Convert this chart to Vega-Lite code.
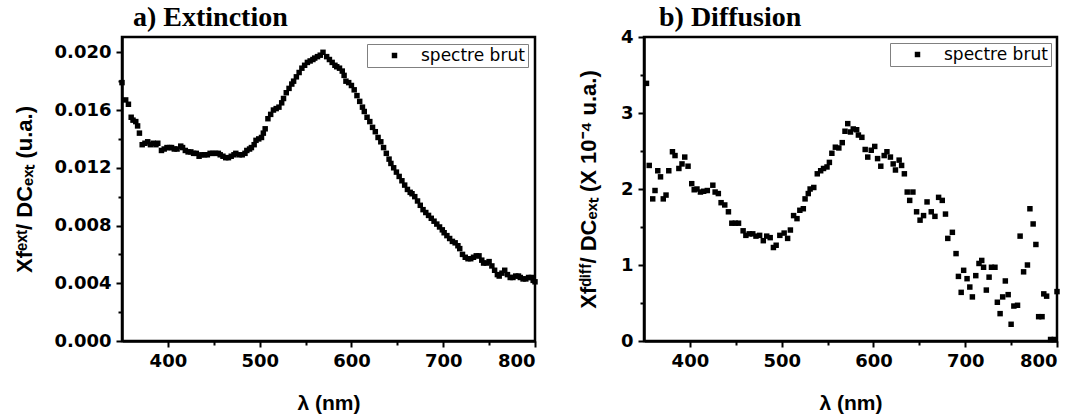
{
  "$schema": "https://vega.github.io/schema/vega-lite/v6.json",
  "background": "white",
  "padding": {"left": 11, "top": 2, "right": 5, "bottom": 0},
  "bounds": "flush",
  "spacing": 109,
  "datasets": {
    "ext": [
      {"l":350,"v":0.0179,"s":"spectre brut"},{"l":354,"v":0.0167,"s":"spectre brut"},{"l":357,"v":0.0164,"s":"spectre brut"},{"l":360,"v":0.0155,"s":"spectre brut"},{"l":362,"v":0.0153,"s":"spectre brut"},{"l":365,"v":0.0152,"s":"spectre brut"},{"l":367,"v":0.0149,"s":"spectre brut"},{"l":369,"v":0.0144,"s":"spectre brut"},{"l":372,"v":0.0136,"s":"spectre brut"},{"l":375,"v":0.0137,"s":"spectre brut"},{"l":378,"v":0.0138,"s":"spectre brut"},{"l":381,"v":0.0136,"s":"spectre brut"},{"l":384,"v":0.0137,"s":"spectre brut"},{"l":387,"v":0.0136,"s":"spectre brut"},{"l":389,"v":0.0137,"s":"spectre brut"},{"l":393,"v":0.0132,"s":"spectre brut"},{"l":396,"v":0.0133,"s":"spectre brut"},{"l":399,"v":0.0134,"s":"spectre brut"},{"l":402,"v":0.0134,"s":"spectre brut"},{"l":404,"v":0.0134,"s":"spectre brut"},{"l":407,"v":0.0133,"s":"spectre brut"},{"l":410,"v":0.0133,"s":"spectre brut"},{"l":414,"v":0.0135,"s":"spectre brut"},{"l":416,"v":0.0134,"s":"spectre brut"},{"l":419,"v":0.0132,"s":"spectre brut"},{"l":422,"v":0.0131,"s":"spectre brut"},{"l":425,"v":0.0131,"s":"spectre brut"},{"l":428,"v":0.0130,"s":"spectre brut"},{"l":431,"v":0.0130,"s":"spectre brut"},{"l":434,"v":0.0128,"s":"spectre brut"},{"l":437,"v":0.0129,"s":"spectre brut"},{"l":440,"v":0.0129,"s":"spectre brut"},{"l":443,"v":0.0129,"s":"spectre brut"},{"l":446,"v":0.0130,"s":"spectre brut"},{"l":449,"v":0.0130,"s":"spectre brut"},{"l":452,"v":0.0130,"s":"spectre brut"},{"l":455,"v":0.0130,"s":"spectre brut"},{"l":457,"v":0.0129,"s":"spectre brut"},{"l":460,"v":0.0128,"s":"spectre brut"},{"l":463,"v":0.0127,"s":"spectre brut"},{"l":466,"v":0.0127,"s":"spectre brut"},{"l":469,"v":0.0128,"s":"spectre brut"},{"l":472,"v":0.0129,"s":"spectre brut"},{"l":474,"v":0.0130,"s":"spectre brut"},{"l":478,"v":0.0129,"s":"spectre brut"},{"l":481,"v":0.0129,"s":"spectre brut"},{"l":484,"v":0.0130,"s":"spectre brut"},{"l":486,"v":0.0132,"s":"spectre brut"},{"l":489,"v":0.0133,"s":"spectre brut"},{"l":491,"v":0.0134,"s":"spectre brut"},{"l":494,"v":0.0136,"s":"spectre brut"},{"l":496,"v":0.0139,"s":"spectre brut"},{"l":499,"v":0.0140,"s":"spectre brut"},{"l":502,"v":0.0141,"s":"spectre brut"},{"l":504,"v":0.0144,"s":"spectre brut"},{"l":506,"v":0.0147,"s":"spectre brut"},{"l":509,"v":0.0154,"s":"spectre brut"},{"l":512,"v":0.0157,"s":"spectre brut"},{"l":515,"v":0.0160,"s":"spectre brut"},{"l":518,"v":0.0161,"s":"spectre brut"},{"l":521,"v":0.0162,"s":"spectre brut"},{"l":524,"v":0.0165,"s":"spectre brut"},{"l":526,"v":0.0168,"s":"spectre brut"},{"l":529,"v":0.0172,"s":"spectre brut"},{"l":532,"v":0.0175,"s":"spectre brut"},{"l":535,"v":0.0178,"s":"spectre brut"},{"l":537,"v":0.0180,"s":"spectre brut"},{"l":540,"v":0.0183,"s":"spectre brut"},{"l":543,"v":0.0186,"s":"spectre brut"},{"l":546,"v":0.0189,"s":"spectre brut"},{"l":549,"v":0.0191,"s":"spectre brut"},{"l":552,"v":0.0193,"s":"spectre brut"},{"l":555,"v":0.0194,"s":"spectre brut"},{"l":558,"v":0.0195,"s":"spectre brut"},{"l":560,"v":0.0196,"s":"spectre brut"},{"l":563,"v":0.0197,"s":"spectre brut"},{"l":566,"v":0.0198,"s":"spectre brut"},{"l":569,"v":0.0200,"s":"spectre brut"},{"l":573,"v":0.0197,"s":"spectre brut"},{"l":576,"v":0.0195,"s":"spectre brut"},{"l":579,"v":0.0193,"s":"spectre brut"},{"l":582,"v":0.0191,"s":"spectre brut"},{"l":584,"v":0.0190,"s":"spectre brut"},{"l":587,"v":0.0189,"s":"spectre brut"},{"l":590,"v":0.0187,"s":"spectre brut"},{"l":592,"v":0.0184,"s":"spectre brut"},{"l":594,"v":0.0180,"s":"spectre brut"},{"l":597,"v":0.0179,"s":"spectre brut"},{"l":600,"v":0.0177,"s":"spectre brut"},{"l":603,"v":0.0174,"s":"spectre brut"},{"l":606,"v":0.0170,"s":"spectre brut"},{"l":609,"v":0.0166,"s":"spectre brut"},{"l":612,"v":0.0162,"s":"spectre brut"},{"l":614,"v":0.0159,"s":"spectre brut"},{"l":617,"v":0.0155,"s":"spectre brut"},{"l":620,"v":0.0152,"s":"spectre brut"},{"l":623,"v":0.0148,"s":"spectre brut"},{"l":626,"v":0.0145,"s":"spectre brut"},{"l":629,"v":0.0141,"s":"spectre brut"},{"l":632,"v":0.0138,"s":"spectre brut"},{"l":635,"v":0.0134,"s":"spectre brut"},{"l":638,"v":0.0130,"s":"spectre brut"},{"l":641,"v":0.0126,"s":"spectre brut"},{"l":643,"v":0.0123,"s":"spectre brut"},{"l":646,"v":0.0120,"s":"spectre brut"},{"l":649,"v":0.0117,"s":"spectre brut"},{"l":652,"v":0.0114,"s":"spectre brut"},{"l":655,"v":0.0111,"s":"spectre brut"},{"l":658,"v":0.0108,"s":"spectre brut"},{"l":661,"v":0.0105,"s":"spectre brut"},{"l":664,"v":0.0103,"s":"spectre brut"},{"l":666,"v":0.0102,"s":"spectre brut"},{"l":669,"v":0.0100,"s":"spectre brut"},{"l":672,"v":0.0097,"s":"spectre brut"},{"l":675,"v":0.0094,"s":"spectre brut"},{"l":678,"v":0.0091,"s":"spectre brut"},{"l":681,"v":0.0089,"s":"spectre brut"},{"l":684,"v":0.0087,"s":"spectre brut"},{"l":687,"v":0.0085,"s":"spectre brut"},{"l":690,"v":0.0083,"s":"spectre brut"},{"l":693,"v":0.0081,"s":"spectre brut"},{"l":696,"v":0.0079,"s":"spectre brut"},{"l":699,"v":0.0077,"s":"spectre brut"},{"l":701,"v":0.0075,"s":"spectre brut"},{"l":704,"v":0.0073,"s":"spectre brut"},{"l":707,"v":0.0071,"s":"spectre brut"},{"l":710,"v":0.0069,"s":"spectre brut"},{"l":713,"v":0.0068,"s":"spectre brut"},{"l":716,"v":0.0066,"s":"spectre brut"},{"l":718,"v":0.0064,"s":"spectre brut"},{"l":721,"v":0.0060,"s":"spectre brut"},{"l":724,"v":0.0058,"s":"spectre brut"},{"l":727,"v":0.0057,"s":"spectre brut"},{"l":730,"v":0.0057,"s":"spectre brut"},{"l":733,"v":0.0058,"s":"spectre brut"},{"l":736,"v":0.0059,"s":"spectre brut"},{"l":739,"v":0.0059,"s":"spectre brut"},{"l":742,"v":0.0056,"s":"spectre brut"},{"l":744,"v":0.0054,"s":"spectre brut"},{"l":747,"v":0.0054,"s":"spectre brut"},{"l":750,"v":0.0055,"s":"spectre brut"},{"l":753,"v":0.0052,"s":"spectre brut"},{"l":756,"v":0.0049,"s":"spectre brut"},{"l":759,"v":0.0046,"s":"spectre brut"},{"l":761,"v":0.0045,"s":"spectre brut"},{"l":764,"v":0.0047,"s":"spectre brut"},{"l":767,"v":0.0049,"s":"spectre brut"},{"l":770,"v":0.0046,"s":"spectre brut"},{"l":773,"v":0.0044,"s":"spectre brut"},{"l":776,"v":0.0044,"s":"spectre brut"},{"l":779,"v":0.0045,"s":"spectre brut"},{"l":782,"v":0.0045,"s":"spectre brut"},{"l":784,"v":0.0044,"s":"spectre brut"},{"l":787,"v":0.0043,"s":"spectre brut"},{"l":790,"v":0.0043,"s":"spectre brut"},{"l":793,"v":0.0044,"s":"spectre brut"},{"l":796,"v":0.0044,"s":"spectre brut"},{"l":798,"v":0.0042,"s":"spectre brut"},{"l":800,"v":0.0041,"s":"spectre brut"}
    ],
    "diff": [
      {"l":352.7,"v":3.39,"s":"spectre brut"},{"l":355.7,"v":2.31,"s":"spectre brut"},{"l":359.5,"v":1.87,"s":"spectre brut"},{"l":362,"v":1.98,"s":"spectre brut"},{"l":365,"v":2.24,"s":"spectre brut"},{"l":368,"v":2.16,"s":"spectre brut"},{"l":371,"v":1.87,"s":"spectre brut"},{"l":374,"v":1.92,"s":"spectre brut"},{"l":377,"v":2.24,"s":"spectre brut"},{"l":381,"v":2.49,"s":"spectre brut"},{"l":383.8,"v":2.44,"s":"spectre brut"},{"l":388,"v":2.27,"s":"spectre brut"},{"l":391.4,"v":2.33,"s":"spectre brut"},{"l":394.4,"v":2.42,"s":"spectre brut"},{"l":398,"v":2.30,"s":"spectre brut"},{"l":402,"v":2.07,"s":"spectre brut"},{"l":404.7,"v":1.99,"s":"spectre brut"},{"l":407.7,"v":2.00,"s":"spectre brut"},{"l":411.5,"v":1.96,"s":"spectre brut"},{"l":415,"v":1.97,"s":"spectre brut"},{"l":419,"v":1.98,"s":"spectre brut"},{"l":425,"v":2.05,"s":"spectre brut"},{"l":427.5,"v":1.96,"s":"spectre brut"},{"l":431,"v":1.94,"s":"spectre brut"},{"l":434,"v":1.82,"s":"spectre brut"},{"l":438,"v":1.79,"s":"spectre brut"},{"l":442,"v":1.70,"s":"spectre brut"},{"l":445.7,"v":1.55,"s":"spectre brut"},{"l":449.5,"v":1.55,"s":"spectre brut"},{"l":453,"v":1.55,"s":"spectre brut"},{"l":458,"v":1.45,"s":"spectre brut"},{"l":461,"v":1.39,"s":"spectre brut"},{"l":464.7,"v":1.41,"s":"spectre brut"},{"l":468.5,"v":1.41,"s":"spectre brut"},{"l":472,"v":1.38,"s":"spectre brut"},{"l":476,"v":1.39,"s":"spectre brut"},{"l":480,"v":1.32,"s":"spectre brut"},{"l":483.7,"v":1.38,"s":"spectre brut"},{"l":487.5,"v":1.36,"s":"spectre brut"},{"l":491,"v":1.23,"s":"spectre brut"},{"l":494,"v":1.26,"s":"spectre brut"},{"l":498,"v":1.39,"s":"spectre brut"},{"l":502.7,"v":1.42,"s":"spectre brut"},{"l":506.5,"v":1.35,"s":"spectre brut"},{"l":509.5,"v":1.46,"s":"spectre brut"},{"l":513,"v":1.65,"s":"spectre brut"},{"l":516.7,"v":1.61,"s":"spectre brut"},{"l":519.8,"v":1.72,"s":"spectre brut"},{"l":523.6,"v":1.74,"s":"spectre brut"},{"l":525.5,"v":1.87,"s":"spectre brut"},{"l":529,"v":1.94,"s":"spectre brut"},{"l":531,"v":2.00,"s":"spectre brut"},{"l":535,"v":2.02,"s":"spectre brut"},{"l":538.8,"v":2.20,"s":"spectre brut"},{"l":542.5,"v":2.24,"s":"spectre brut"},{"l":545.6,"v":2.27,"s":"spectre brut"},{"l":549.4,"v":2.29,"s":"spectre brut"},{"l":552,"v":2.35,"s":"spectre brut"},{"l":554.7,"v":2.47,"s":"spectre brut"},{"l":558.5,"v":2.55,"s":"spectre brut"},{"l":562.3,"v":2.54,"s":"spectre brut"},{"l":566,"v":2.61,"s":"spectre brut"},{"l":569,"v":2.76,"s":"spectre brut"},{"l":572,"v":2.86,"s":"spectre brut"},{"l":575,"v":2.75,"s":"spectre brut"},{"l":578,"v":2.79,"s":"spectre brut"},{"l":581.7,"v":2.78,"s":"spectre brut"},{"l":583.6,"v":2.71,"s":"spectre brut"},{"l":587.4,"v":2.68,"s":"spectre brut"},{"l":591,"v":2.52,"s":"spectre brut"},{"l":593.8,"v":2.42,"s":"spectre brut"},{"l":597.6,"v":2.51,"s":"spectre brut"},{"l":601.4,"v":2.56,"s":"spectre brut"},{"l":604.5,"v":2.40,"s":"spectre brut"},{"l":608,"v":2.30,"s":"spectre brut"},{"l":611.7,"v":2.44,"s":"spectre brut"},{"l":614.7,"v":2.49,"s":"spectre brut"},{"l":618.5,"v":2.42,"s":"spectre brut"},{"l":621.5,"v":2.33,"s":"spectre brut"},{"l":624,"v":2.25,"s":"spectre brut"},{"l":628,"v":2.38,"s":"spectre brut"},{"l":630.7,"v":2.31,"s":"spectre brut"},{"l":633.7,"v":2.20,"s":"spectre brut"},{"l":636.8,"v":1.96,"s":"spectre brut"},{"l":639.5,"v":1.85,"s":"spectre brut"},{"l":643,"v":1.96,"s":"spectre brut"},{"l":647,"v":1.70,"s":"spectre brut"},{"l":650.8,"v":1.59,"s":"spectre brut"},{"l":654.6,"v":1.65,"s":"spectre brut"},{"l":658.4,"v":1.83,"s":"spectre brut"},{"l":663,"v":1.70,"s":"spectre brut"},{"l":667,"v":1.64,"s":"spectre brut"},{"l":671,"v":1.89,"s":"spectre brut"},{"l":675,"v":1.85,"s":"spectre brut"},{"l":678.5,"v":1.67,"s":"spectre brut"},{"l":681,"v":1.35,"s":"spectre brut"},{"l":686,"v":1.43,"s":"spectre brut"},{"l":690,"v":1.15,"s":"spectre brut"},{"l":692.6,"v":0.85,"s":"spectre brut"},{"l":695.6,"v":0.64,"s":"spectre brut"},{"l":698.3,"v":0.93,"s":"spectre brut"},{"l":702,"v":0.82,"s":"spectre brut"},{"l":705,"v":0.71,"s":"spectre brut"},{"l":707.8,"v":0.58,"s":"spectre brut"},{"l":711.5,"v":0.86,"s":"spectre brut"},{"l":715,"v":1.02,"s":"spectre brut"},{"l":718,"v":1.06,"s":"spectre brut"},{"l":720,"v":0.97,"s":"spectre brut"},{"l":723,"v":0.67,"s":"spectre brut"},{"l":726,"v":0.84,"s":"spectre brut"},{"l":728.6,"v":0.97,"s":"spectre brut"},{"l":732.4,"v":0.97,"s":"spectre brut"},{"l":735,"v":0.51,"s":"spectre brut"},{"l":738,"v":0.36,"s":"spectre brut"},{"l":740.8,"v":0.58,"s":"spectre brut"},{"l":743.7,"v":0.79,"s":"spectre brut"},{"l":746.8,"v":0.61,"s":"spectre brut"},{"l":750,"v":0.22,"s":"spectre brut"},{"l":753,"v":0.46,"s":"spectre brut"},{"l":757,"v":0.47,"s":"spectre brut"},{"l":759.8,"v":1.38,"s":"spectre brut"},{"l":763.6,"v":0.91,"s":"spectre brut"},{"l":767.8,"v":1.00,"s":"spectre brut"},{"l":770.5,"v":1.74,"s":"spectre brut"},{"l":774,"v":1.54,"s":"spectre brut"},{"l":777,"v":1.27,"s":"spectre brut"},{"l":780,"v":0.32,"s":"spectre brut"},{"l":783.7,"v":0.32,"s":"spectre brut"},{"l":785.6,"v":0.62,"s":"spectre brut"},{"l":788.7,"v":0.59,"s":"spectre brut"},{"l":793,"v":0.02,"s":"spectre brut"},{"l":797,"v":0.02,"s":"spectre brut"},{"l":800,"v":0.65,"s":"spectre brut"}
    ]
  },
  "hconcat": [
    {
      "width": 413,
      "height": 304,
      "title": {"text": "a) Extinction", "anchor": "start", "frame": "group", "dx": 11, "offset": 5, "font": "Liberation Serif", "fontSize": 28, "fontWeight": "bold", "color": "black"},
      "data": {"name": "ext"},
      "layer": [
        {
          "mark": {"type": "point", "shape": "square", "filled": true, "size": 30, "opacity": 1},
          "encoding": {
            "x": {"field": "l", "type": "quantitative", "scale": {"domain": [350, 800], "nice": false, "zero": false},
                  "axis": {"orient": "bottom", "title": "λ (nm)", "values": [400, 500, 600, 700, 800], "titlePadding": 22}},
            "y": {"field": "v", "type": "quantitative", "scale": {"domain": [0, 0.02106], "nice": false},
                  "axis": {"orient": "left", "title": "Xfᵉˣᵗ/ DCₑₓₜ (u.a.)", "titleFontSize": 22, "values": [0, 0.004, 0.008, 0.012, 0.016, 0.02], "format": ".3f", "titlePadding": 18}},
            "color": {"field": "s", "type": "nominal", "scale": {"range": ["black"]},
                      "legend": {"title": null, "orient": "top-right", "offset": 7, "symbolType": "square", "symbolSize": 30, "symbolOffset": 16, "labelOffset": 18, "padding": 3, "strokeColor": "#808080", "fillColor": "white", "labelFont": "DejaVu Sans", "labelFontSize": 17, "labelColor": "black"}}
          }
        },
        {
          "mark": {"type": "point", "opacity": 0},
          "encoding": {
            "x": {"field": "l", "type": "quantitative", "axis": {"orient": "bottom", "title": null, "values": [450, 550, 650, 750], "labels": false, "domain": false, "tickSize": 4}},
            "y": {"field": "v", "type": "quantitative", "axis": {"orient": "left", "title": null, "values": [0.002, 0.006, 0.01, 0.014, 0.018], "labels": false, "domain": false, "tickSize": 4}}
          }
        }
      ],
      "resolve": {"axis": {"x": "independent", "y": "independent"}}
    },
    {
      "width": 413,
      "height": 304,
      "title": {"text": "b) Diffusion", "anchor": "start", "frame": "group", "dx": 15, "offset": -4, "font": "Liberation Serif", "fontSize": 28, "fontWeight": "bold", "color": "black"},
      "data": {"name": "diff"},
      "layer": [
        {
          "mark": {"type": "point", "shape": "square", "filled": true, "size": 30, "opacity": 1},
          "encoding": {
            "x": {"field": "l", "type": "quantitative", "scale": {"domain": [350, 800], "nice": false, "zero": false},
                  "axis": {"orient": "bottom", "title": "λ (nm)", "values": [400, 500, 600, 700, 800], "titlePadding": 22}},
            "y": {"field": "v", "type": "quantitative", "scale": {"domain": [0, 4], "nice": false},
                  "axis": {"orient": "left", "title": "Xfᵈⁱᶠᶠ/ DCₑₓₜ (X 10⁻⁴ u.a.)", "titleFontSize": 22, "values": [0, 1, 2, 3, 4], "format": "d", "titlePadding": 20}},
            "color": {"field": "s", "type": "nominal", "scale": {"range": ["black"]},
                      "legend": {"title": null, "orient": "top-right", "offset": 6, "symbolType": "square", "symbolSize": 30, "symbolOffset": 16, "labelOffset": 18, "padding": 3, "strokeColor": "#808080", "fillColor": "white", "labelFont": "DejaVu Sans", "labelFontSize": 17, "labelColor": "black"}}
          }
        },
        {
          "mark": {"type": "point", "opacity": 0},
          "encoding": {
            "x": {"field": "l", "type": "quantitative", "axis": {"orient": "bottom", "title": null, "values": [450, 550, 650, 750], "labels": false, "domain": false, "tickSize": 4}},
            "y": {"field": "v", "type": "quantitative", "axis": {"orient": "left", "title": null, "values": [0.5, 1.5, 2.5, 3.5], "labels": false, "domain": false, "tickSize": 4}}
          }
        }
      ],
      "resolve": {"axis": {"x": "independent", "y": "independent"}}
    }
  ],
  "resolve": {"scale": {"color": "independent"}, "legend": {"color": "independent"}},
  "config": {
    "view": {"stroke": "black", "strokeWidth": 2.5},
    "axis": {
      "grid": false,
      "domainColor": "black", "domainWidth": 2.5,
      "tickColor": "black", "tickWidth": 2, "tickSize": 6,
      "labelFont": "DejaVu Sans", "labelFontWeight": "bold", "labelFontSize": 18, "labelColor": "black", "labelPadding": 5,
      "titleFont": "Liberation Sans", "titleFontWeight": "bold", "titleFontSize": 21, "titleColor": "black"
    }
  }
}
